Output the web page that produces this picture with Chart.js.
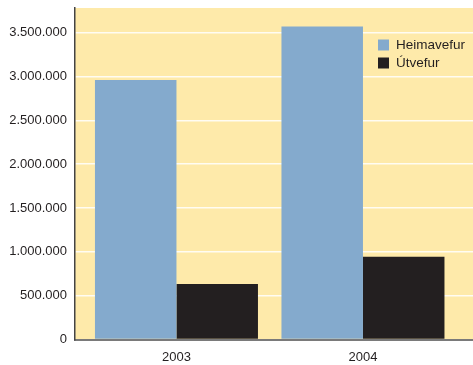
<!DOCTYPE html>
<html>
<head>
<meta charset="utf-8">
<script src="https://cdn.jsdelivr.net/npm/chart.js@4"></script>
<style>
  html, body { margin: 0; padding: 0; background: #fff; }
  #wrap { width: 473px; height: 365px; }
</style>
</head>
<body>
<div id="wrap"><canvas id="vefChart" width="473" height="365"></canvas></div>
<script>
// gögn
const years = ['2003', '2004'];
const heimavefur = [2960000, 3570000];
const utvefur = [634000, 943000];
const seriesNames = ['Heimavefur', 'Útvefur'];
const yTicks = [0, 500000, 1000000, 1500000, 2000000, 2500000, 3000000, 3500000];
const yMax = 3780000;

// punktar sem þúsundaskil
const fmt = v => String(Math.round(v)).replace(/\B(?=(\d{3})+(?!\d))/g, '.');

// gulur bakgrunnur á teiknisvæði
const bgPlugin = {
    id: 'bg',
    beforeDraw(chart) {
        const { ctx, chartArea: a } = chart;
        ctx.save();
        ctx.fillStyle = '#FEEAAA';
        ctx.fillRect(a.left, a.top, a.right - a.left, a.bottom - a.top);
        ctx.restore();
    }
};

// skýringar inni í teiknisvæði
const legendPlugin = {
    id: 'insideLegend',
    afterDraw(chart) {
        const ctx = chart.ctx;
        ctx.save();
        ctx.font = '13.5px "Liberation Sans", Arial, sans-serif';
        ctx.textBaseline = 'middle';
        chart.data.datasets.forEach((ds, i) => {
            const y = 45 + i * 18;
            ctx.fillStyle = ds.backgroundColor;
            ctx.fillRect(378, y - 5.5, 11, 11);
            ctx.fillStyle = '#231F20';
            ctx.fillText(ds.label, 396, y + 0.5);
        });
        ctx.restore();
    }
};

const ctx = document.getElementById('vefChart').getContext('2d');
const vefChart = new Chart(ctx, {
    type: 'bar',
    data: {
        datasets: [{
            label: seriesNames[0],
            data: heimavefur.map((v, i) => ({ x: i, y: v })),
            backgroundColor: '#84AACD'
        }, {
            label: seriesNames[1],
            data: utvefur.map((v, i) => ({ x: i, y: v })),
            backgroundColor: '#231F20'
        }]
    },
    options: {
        responsive: false,
        animation: false,
        layout: { padding: { top: 8, right: 0, left: 0, bottom: 0 } },
        categoryPercentage: 0.874,
        barPercentage: 1,
        plugins: {
            legend: { display: false },
            tooltip: { enabled: false }
        },
        scales: {
            x: {
                type: 'linear',
                offset: false,
                min: -0.544,
                max: 1.59,
                grid: { display: false },
                border: { display: true, color: '#7a7a7a', width: 2 },
                afterBuildTicks: s => { s.ticks = years.map((y, i) => ({ value: i })); },
                ticks: {
                    autoSkip: false,
                    color: '#231F20',
                    font: { family: '"Liberation Sans", Arial, sans-serif', size: 13 },
                    padding: 2,
                    callback: v => years[v]
                },
                afterFit: s => { s.height = 25.5; s.paddingLeft = 0; s.paddingRight = 0; }
            },
            y: {
                min: 0,
                max: yMax,
                grid: { color: 'rgba(255,255,255,0.85)', lineWidth: 1.5, drawTicks: false },
                border: { display: true, color: '#444', width: 1.5 },
                afterBuildTicks: s => { s.ticks = yTicks.map(v => ({ value: v })); },
                ticks: {
                    autoSkip: false,
                    color: '#231F20',
                    font: { family: '"Liberation Sans", Arial, sans-serif', size: 13 },
                    padding: 8,
                    callback: v => fmt(v)
                },
                afterFit: s => { s.width = 75; s.paddingTop = 0; s.paddingBottom = 0; }
            }
        }
    },
    plugins: [bgPlugin, legendPlugin]
});
</script>
</body>
</html>
